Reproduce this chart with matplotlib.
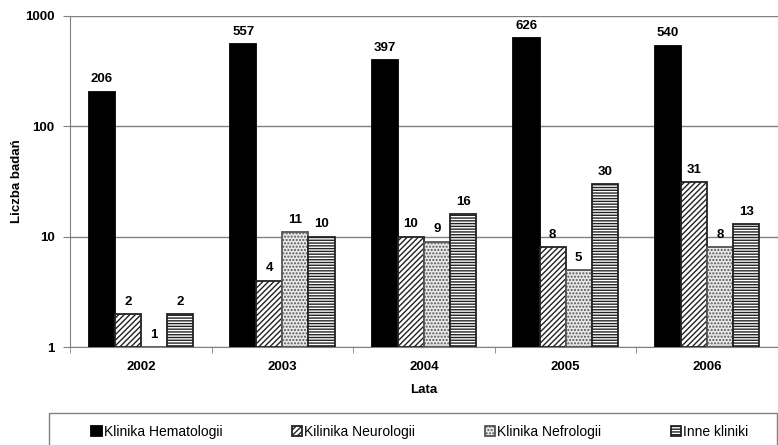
import numpy as np
import matplotlib.pyplot as plt
from matplotlib.patches import Rectangle

plt.rcParams['font.family'] = ['Liberation Sans', 'DejaVu Sans']
plt.rcParams['hatch.linewidth'] = 1.0

years = ['2002', '2003', '2004', '2005', '2006']
hematologia = [206, 557, 397, 626, 540]
neurologia = [2, 4, 10, 8, 31]
nefrologia = [1, 11, 9, 5, 8]
inne = [2, 10, 16, 30, 13]

series = [
    ('Klinika Hematologii', hematologia, dict(facecolor='black', edgecolor='black')),
    ('Kilinika Neurologii', neurologia, dict(facecolor='white', edgecolor='#222222', hatch='//////')),
    ('Klinika Nefrologii', nefrologia, dict(facecolor='#e8e8e8', edgecolor='#555555', hatch='.....')),
    ('Inne kliniki', inne, dict(facecolor='white', edgecolor='#222222', hatch='------')),
]

W, H = 778, 445
fig = plt.figure(figsize=(W / 100, H / 100), dpi=100)
ax = fig.add_axes([70 / W, 1 - 347 / H, 708 / W, 331 / H])

x = np.arange(len(years))
width = 0.184
offsets = (np.arange(4) - 1.5) * width

for (name, vals, style), off in zip(series, offsets):
    vals = np.array(vals, dtype=float)
    ax.bar(x + off, vals - 1, width, bottom=1, linewidth=1.3, label=name,
           zorder=3, **style)
    for xi, v in zip(x + off, vals):
        ax.text(xi, v * 1.14, f'{int(v)}', ha='center', va='bottom',
                fontsize=9.5, fontweight='bold', zorder=4)

ax.set_yscale('log')
ax.set_ylim(1, 1000)
ax.set_xlim(-0.5, len(years) - 0.5)
ax.set_yticks([1, 10, 100, 1000])
ax.set_yticklabels(['1', '10', '100', '1000'], fontweight='bold', fontsize=9.5)
ax.minorticks_off()
ax.yaxis.grid(True, color='#808080', linewidth=1, zorder=0)

ax.set_xticks(x)
ax.set_xticklabels(years, fontweight='bold', fontsize=9.5)
ax.set_xticks(np.arange(len(years) + 1) - 0.5, minor=True)
ax.tick_params(axis='x', which='major', length=0, pad=10)
ax.tick_params(axis='x', which='minor', length=4, color='#808080')
ax.tick_params(axis='y', length=5, color='#808080', pad=6)

for side in ['top', 'right']:
    ax.spines[side].set_visible(False)
for side in ['left', 'bottom']:
    ax.spines[side].set_color('#808080')

ax.set_xlabel('Lata', fontweight='bold', fontsize=9.5, labelpad=8)
ax.set_ylabel('Liczba badań', fontweight='bold', fontsize=9.5)
ax.yaxis.set_label_coords(-47 / 708, 0.5)

# legend box along the bottom edge
fig.patches.append(Rectangle((49 / W, -0.02), 728 / W, (H - 413) / H + 0.02,
                             transform=fig.transFigure, facecolor='white',
                             edgecolor='#808080', linewidth=1))
fig.legend(loc='center', bbox_to_anchor=(420 / W, 1 - 432 / H), ncol=4,
           frameon=False, fontsize=10, handlelength=0.75, handleheight=0.75,
           handletextpad=0.15, columnspacing=5.0, borderaxespad=0)

fig.savefig('out.png', dpi=100)
